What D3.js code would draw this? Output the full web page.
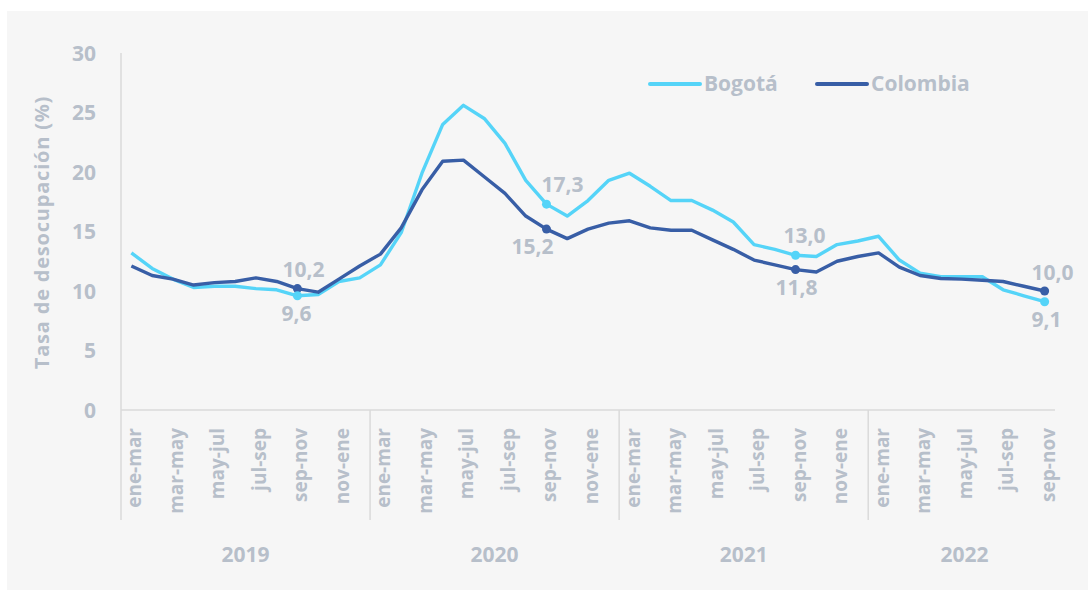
<!DOCTYPE html>
<html lang="es">
<head>
<meta charset="UTF-8">
<title>Tasa de desocupación Bogotá y Colombia</title>
<script src="https://cdn.jsdelivr.net/npm/d3@7"></script>
<style>
  body { margin: 0; background: #ffffff; }
  svg { display: block; font-family: "Open Sans", Lato, sans-serif; }
  .lbl { fill: #b7bfca; font-weight: 700; }
</style>
</head>
<body>
<svg id="chart" width="1088" height="590"></svg>
<script>
// years and rolling quarters
const years = ["2019", "2020", "2021", "2022"];
const quarters = ["ene-mar", "feb-abr", "mar-may", "abr-jun", "may-jul", "jun-ago",
                  "jul-sep", "ago-oct", "sep-nov", "oct-dic", "nov-ene", "dic-feb"];
const quartersPerYear = [12, 12, 12, 9];

// unemployment rate (%)
const bogota = [
  13.2, 11.9, 11.0, 10.3, 10.4, 10.4, 10.2, 10.1, 9.6, 9.7, 10.8, 11.1,
  12.2, 14.9, 19.9, 24.0, 25.6, 24.5, 22.4, 19.3, 17.3, 16.3, 17.6, 19.3,
  19.9, 18.8, 17.6, 17.6, 16.8, 15.8, 13.9, 13.5, 13.0, 12.9, 13.9, 14.2,
  14.6, 12.6, 11.5, 11.2, 11.2, 11.2, 10.1, 9.6, 9.1
];
const colombia = [
  12.1, 11.3, 11.0, 10.5, 10.7, 10.8, 11.1, 10.8, 10.2, 9.9, 11.0, 12.1,
  13.1, 15.3, 18.5, 20.9, 21.0, 19.6, 18.2, 16.3, 15.2, 14.4, 15.2, 15.7,
  15.9, 15.3, 15.1, 15.1, 14.3, 13.5, 12.6, 12.2, 11.8, 11.6, 12.5, 12.9,
  13.2, 12.0, 11.3, 11.05, 11.0, 10.9, 10.8, 10.4, 10.0
];
const yTicks = [0, 5, 10, 15, 20, 25, 30];

// highlighted values: [index, series, label, dx, dy]
const callouts = [
  [8, "colombia", "10,2", 6, -12],
  [8, "bogota", "9,6", -1, 25],
  [20, "bogota", "17,3", 16, -12],
  [20, "colombia", "15,2", -14, 25],
  [32, "bogota", "13,0", 9, -12],
  [32, "colombia", "11,8", 1, 25],
  [44, "colombia", "10,0", 8, -11],
  [44, "bogota", "9,1", 2, 25]
];

const colors = { bogota: "#55d4f8", colombia: "#385ea6" };
const series = { bogota, colombia };

// build category keys
const cats = [];
years.forEach((y, yi) => {
  for (let q = 0; q < quartersPerYear[yi]; q++) cats.push({ key: y + "-" + q, year: y, q: quarters[q] });
});

const svg = d3.select("#chart");
svg.append("rect").attr("x", 7).attr("y", 11).attr("width", 1081).attr("height", 579).attr("fill", "#f6f6f6");

const plotLeft = 121, plotRight = 1055, plotTop = 53, plotBottom = 410;

const x = d3.scaleBand().domain(cats.map(d => d.key)).range([plotLeft, plotRight]);
const y = d3.scaleLinear().domain([0, 30]).range([plotBottom, plotTop]);
const cx = i => x(cats[i].key) + x.bandwidth() / 2;

// y axis line + tick labels
svg.append("line").attr("x1", plotLeft).attr("x2", plotLeft).attr("y1", plotTop).attr("y2", plotBottom)
  .attr("stroke", "#dadada").attr("stroke-width", 1.5);
svg.selectAll(".ytick").data(yTicks).join("text")
  .attr("class", "lbl")
  .attr("x", 96).attr("y", d => y(d)).attr("dy", "0.36em")
  .attr("text-anchor", "end").attr("font-size", 21)
  .text(d => d);

svg.append("text").attr("class", "lbl")
  .attr("transform", `translate(49,${(plotTop + plotBottom) / 2 + 1}) rotate(-90)`)
  .attr("text-anchor", "middle").attr("font-size", 20).attr("letter-spacing", 0.8)
  .text("Tasa de desocupación (%)");

// x axis baseline and year separators
svg.append("line").attr("x1", plotLeft).attr("x2", plotRight).attr("y1", plotBottom).attr("y2", plotBottom)
  .attr("stroke", "#dadada").attr("stroke-width", 1.5);
const yearStarts = years.map(yr => cats.findIndex(c => c.year === yr));
svg.selectAll(".sep").data(yearStarts).join("line")
  .attr("x1", i => x(cats[i].key)).attr("x2", i => x(cats[i].key))
  .attr("y1", plotBottom).attr("y2", 520)
  .attr("stroke", "#dadada").attr("stroke-width", 1.5);

// quarter labels (every other)
const shown = cats.map((c, i) => i).filter(i => quarters.indexOf(cats[i].q) % 2 === 0);
svg.selectAll(".xtick").data(shown).join("text")
  .attr("class", "lbl")
  .attr("transform", i => `translate(${cx(i) + 10},428) rotate(-90)`)
  .attr("text-anchor", "end").attr("font-size", 19).attr("font-weight", 600)
  .text(i => cats[i].q);

// year labels
years.forEach((yr, yi) => {
  const idx = cats.map((c, i) => i).filter(i => cats[i].year === yr);
  const x0 = x(cats[idx[0]].key), x1 = x(cats[idx[idx.length - 1]].key) + x.bandwidth();
  svg.append("text").attr("class", "lbl")
    .attr("x", yi === 3 ? (x0 + x1) / 2 + 3 : (x0 + x1) / 2).attr("y", 562)
    .attr("text-anchor", "middle").attr("font-size", 21)
    .text(yr);
});

// lines
const line = d3.line().x((d, i) => cx(i)).y(d => y(d));
["bogota", "colombia"].forEach(k => {
  svg.append("path").datum(series[k])
    .attr("fill", "none").attr("stroke", colors[k]).attr("stroke-width", 3.4)
    .attr("stroke-linejoin", "round")
    .attr("d", line);
});

// callouts
callouts.forEach(([i, k, txt, dx, dy]) => {
  const px = cx(i), py = y(series[k][i]);
  svg.append("circle").attr("cx", px).attr("cy", py).attr("r", 4.5).attr("fill", colors[k]);
  svg.append("text").attr("class", "lbl")
    .attr("x", px + dx).attr("y", py + dy)
    .attr("text-anchor", "middle").attr("font-size", 21)
    .text(txt);
});

// legend
const legend = [["Bogotá", "bogota", 650], ["Colombia", "colombia", 817]];
legend.forEach(([name, k, lx]) => {
  svg.append("line").attr("x1", lx).attr("x2", lx + 50).attr("y1", 84).attr("y2", 84)
    .attr("stroke", colors[k]).attr("stroke-width", 4).attr("stroke-linecap", "round");
  svg.append("text").attr("class", "lbl")
    .attr("x", lx + 54).attr("y", 84).attr("dy", "0.35em").attr("font-size", 21)
    .text(name);
});
</script>
</body>
</html>
